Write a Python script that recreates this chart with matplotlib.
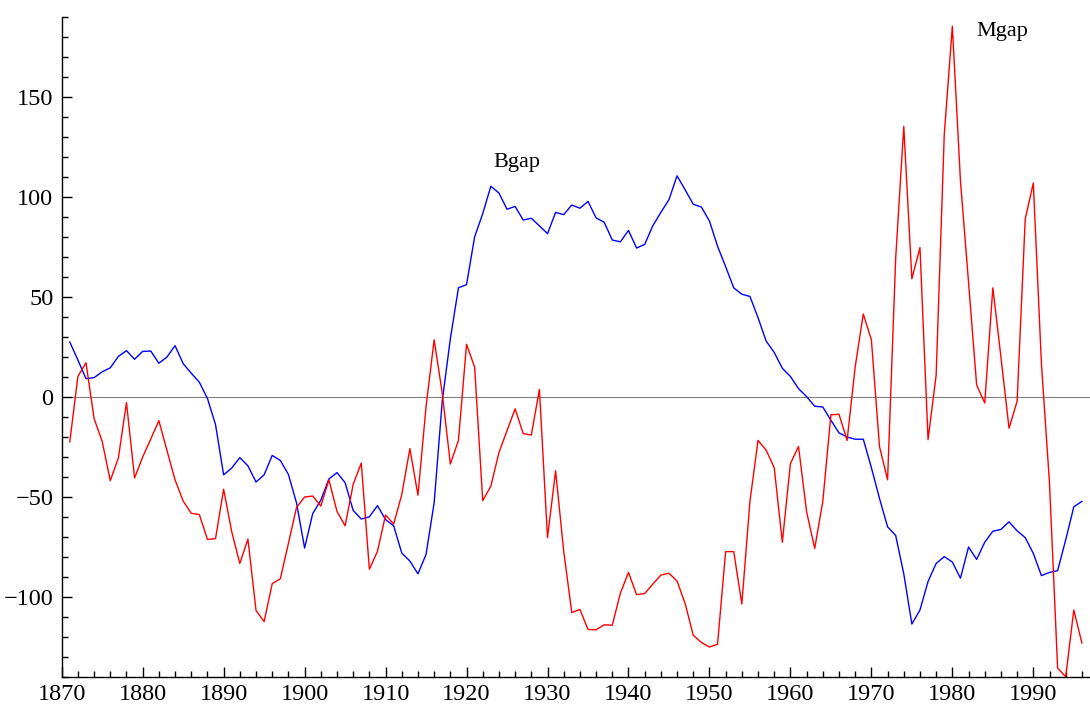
import matplotlib.pyplot as plt
from matplotlib.ticker import MultipleLocator

plt.rcParams['font.family'] = ['Liberation Serif', 'DejaVu Serif']

# annual gaps, 1871-1996
years = list(range(1871, 1997))

bgap = [
    27.5, 18.5, 9.2, 9.7, 12.6, 14.6, 20.3, 23.2, 18.9,            # 1871-1879
    22.8, 23.0, 16.9, 20.0, 25.7, 16.7, 11.9, 7.4, -0.7, -13.8,     # 1880s
    -38.9, -35.5, -30.3, -34.4, -42.5, -38.9, -29.2, -31.7, -38.7, -52.9,
    -75.5, -58.3, -51.6, -41.0, -37.8, -42.8, -56.7, -61.0, -59.9, -54.3,
    -61.3, -64.4, -78.0, -82.0, -88.4, -78.7, -52.9, -2.0, 29.1, 54.6,
    56.2, 80.1, 91.7, 105.4, 102.0, 93.9, 95.3, 88.5, 89.4, 85.6,
    81.7, 92.3, 91.2, 96.0, 94.4, 97.8, 89.6, 87.4, 78.5, 77.6,
    83.3, 74.5, 76.3, 85.6, 92.3, 98.7, 110.6, 103.6, 96.4, 95.0,
    88.0, 75.4, 65.2, 54.6, 51.4, 50.3, 39.7, 28.0, 22.3, 14.4,
    10.3, 4.2, 0.2, -4.6, -5.0, -11.6, -17.9, -20.0, -21.1, -21.1,
    -35.3, -50.7, -64.9, -69.2, -88.4, -113.5, -106.5, -92.2, -83.2, -79.8,
    -82.5, -90.6, -75.0, -81.2, -72.6, -67.1, -66.2, -62.4, -66.9, -70.3,
    -78.2, -89.3, -87.7, -86.8, -71.4, -54.9, -52.2,                # 1990-1996
]

mgap = [
    -22.4, 10.3, 17.1, -10.7, -22.2, -41.8, -30.5, -2.8, -40.5,
    -30.0, -21.0, -11.8, -26.7, -41.4, -52.0, -58.1, -58.8, -71.2, -70.8,
    -46.1, -67.4, -83.2, -71.0, -106.7, -112.3, -93.3, -90.9, -73.2, -55.2,
    -50.0, -49.5, -54.5, -41.4, -57.2, -64.4, -43.7, -33.0, -86.1, -77.1,
    -59.0, -63.5, -48.8, -25.8, -49.1, -4.8, 28.6, 2.0, -33.5, -21.7,
    26.4, 14.9, -51.8, -44.6, -27.8, -16.8, -5.9, -18.3, -19.0, 3.8,
    -70.3, -36.9, -77.1, -107.8, -106.2, -116.2, -116.4, -113.9, -114.1, -98.1,
    -87.7, -98.8, -98.3, -93.6, -89.0, -88.1, -92.0, -103.3, -119.1, -122.7,
    -125.0, -123.6, -77.3, -77.3, -103.5, -52.2, -21.7, -26.5, -35.3, -72.6,
    -33.3, -24.7, -57.4, -75.7, -52.2, -8.9, -8.6, -21.7, 15.1, 41.5,
    28.6, -24.7, -41.4, 69.3, 135.3, 59.1, 74.7, -21.3, 11.0, 131.2,
    185.4, 108.1, 57.3, 6.0, -3.0, 54.6, 20.0, -15.6, -2.1, 89.0,
    107.0, 16.7, -43.2, -135.5, -139.9, -106.5, -123.0,
]

fig = plt.figure(figsize=(10.9, 7.07), dpi=100)
ax = fig.add_axes([0.0566, 0.0424, 0.9434, 0.9335])

ax.axhline(0, color='#808080', lw=0.8, zorder=1)
ax.plot(years, bgap, color='blue', lw=1.0, zorder=2)
ax.plot(years, mgap, color='red', lw=1.0, zorder=3)

# series names placed next to the lines
ax.text(1926.2, 117.5, 'Bgap', fontsize=16, ha='center', va='center')
ax.text(1986.2, 182.7, 'Mgap', fontsize=16, ha='center', va='center')

ax.set_xlim(1870, 1997)
ax.set_ylim(-140, 190)

ax.spines['top'].set_visible(False)
ax.spines['right'].set_visible(False)
for side in ['left', 'bottom']:
    ax.spines[side].set_linewidth(1.0)

ax.xaxis.set_major_locator(MultipleLocator(10))
ax.xaxis.set_minor_locator(MultipleLocator(2))
ax.yaxis.set_major_locator(MultipleLocator(50))
ax.yaxis.set_minor_locator(MultipleLocator(10))

ax.tick_params(which='major', direction='in', length=7, width=1.0, labelsize=17.5)
ax.tick_params(which='minor', direction='in', length=4, width=1.0)
ax.tick_params(axis='x', which='major', pad=5)
ax.tick_params(axis='y', which='major', pad=6)

fig.savefig('out.png', dpi=100)
